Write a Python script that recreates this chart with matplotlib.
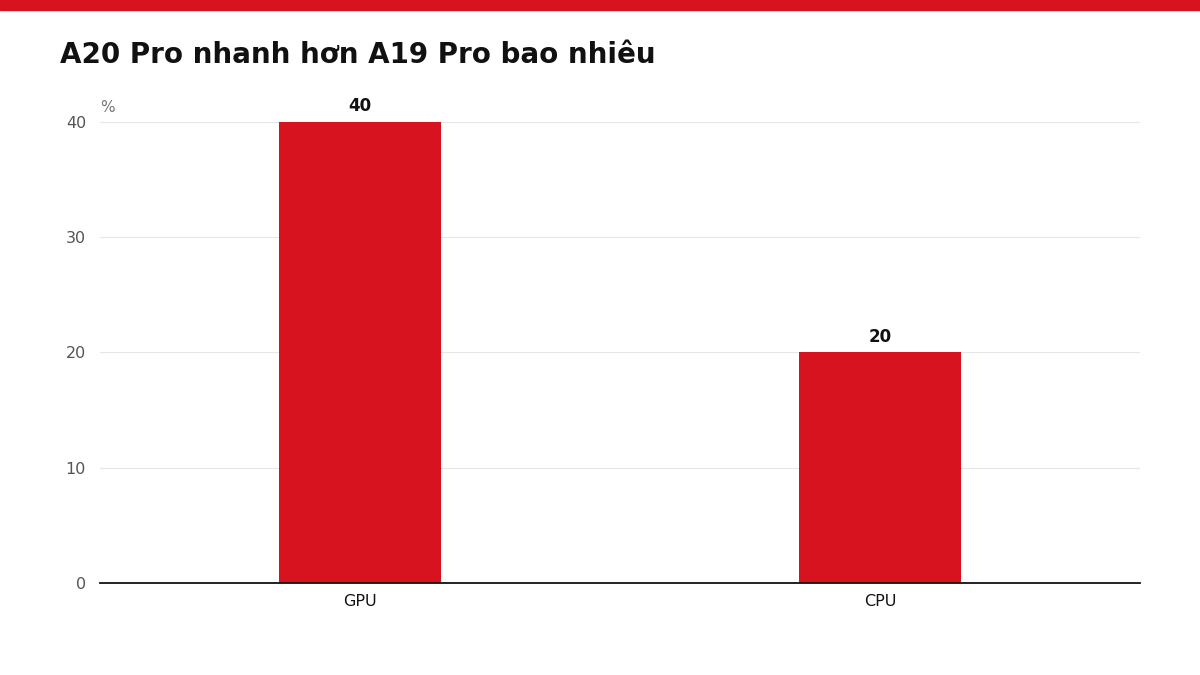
import matplotlib
matplotlib.use("Agg")
import matplotlib.pyplot as plt
from matplotlib.patches import Rectangle

categories = ["GPU", "CPU"]
values = [40, 20]
yticks = [0, 10, 20, 30, 40]
title = "A20 Pro nhanh hơn A19 Pro bao nhiêu"
red = "#d6131f"

fig = plt.figure(figsize=(12, 6.75), dpi=100)
fig.patches.append(Rectangle((0, 1 - 10/675), 1, 10/675, transform=fig.transFigure, color=red, zorder=0))
fig.text(60/1200, 1 - 55/675, title, fontsize=20, fontweight="bold", color="#111111", va="center", ha="left")

ax = fig.add_axes([100/1200, 92/675, 1040/1200, 461/675])
x = list(range(len(categories)))
ax.bar(x, values, width=0.31, color=red, zorder=2)
for xi, v in zip(x, values):
    ax.text(xi, v + 0.6, str(v), ha="center", va="bottom", fontsize=12, fontweight="bold", color="#111111")
ax.set_xlim(-0.5, 1.5)
ax.set_ylim(0, 40)
ax.set_yticks(yticks)
ax.set_xticks(x)
ax.set_xticklabels(categories, fontsize=11.5, color="#111111")
ax.tick_params(axis="y", labelsize=11.5, labelcolor="#555555", length=0, pad=10)
ax.tick_params(axis="x", length=0, pad=8)
ax.grid(axis="y", color="#e6e6e6", linewidth=0.8, zorder=0)
for s in ["top", "right", "left"]:
    ax.spines[s].set_visible(False)
ax.spines["bottom"].set_color("#111111")
ax.spines["bottom"].set_linewidth(1.3)
ax.spines["bottom"].set_zorder(3)
fig.text(100/1200, 1 - 107/675, "%", fontsize=11, color="#777777", va="center", ha="left")

fig.savefig("out.png", dpi=100)
